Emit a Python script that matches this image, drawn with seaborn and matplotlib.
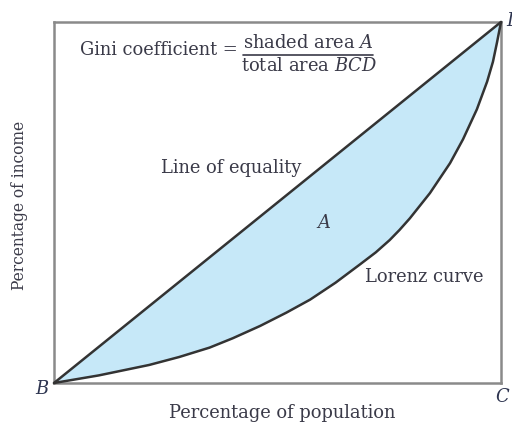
import matplotlib
matplotlib.use("Agg")
import matplotlib.pyplot as plt
import seaborn as sns
import pandas as pd
from matplotlib.lines import Line2D

# Data (Lorenz curve and line of equality)
population_share = [0.0, 0.10, 0.213, 0.28, 0.348, 0.40, 0.461, 0.52, 0.573, 0.63, 0.685,
                    0.72, 0.751, 0.773, 0.796, 0.841, 0.886, 0.915, 0.946, 0.969, 0.982,
                    0.991, 1.0]
income_share = [0.0, 0.021, 0.050, 0.072, 0.098, 0.124, 0.158, 0.195, 0.231, 0.278, 0.329,
                0.362, 0.396, 0.424, 0.456, 0.526, 0.609, 0.675, 0.758, 0.835, 0.890,
                0.943, 1.0]
equality_x = [0.0, 1.0]
equality_y = [0.0, 1.0]

sns.set_theme(style="white")
plt.rcParams["font.family"] = ["DejaVu Serif"]
plt.rcParams["mathtext.fontset"] = "custom"
plt.rcParams["mathtext.it"] = "DejaVu Serif:italic"
plt.rcParams["mathtext.rm"] = "DejaVu Serif"

W, H = 512, 424
fig = plt.figure(figsize=(W / 100, H / 100), dpi=100)
ax = fig.add_axes([54 / W, 1 - 383 / H, 447 / W, 361 / H])

lorenz = pd.DataFrame({"pop": population_share, "inc": income_share})
eq = pd.DataFrame({"pop": equality_x, "inc": equality_y})

ax.fill_between(population_share, income_share, population_share,
                color="#c6e8f8", linewidth=0, zorder=1)
sns.lineplot(data=eq, x="pop", y="inc", ax=ax, color="#333333", linewidth=1.8,
             sort=False, zorder=3)
sns.lineplot(data=lorenz, x="pop", y="inc", ax=ax, color="#333333", linewidth=1.8,
             sort=False, zorder=3)
for l in ax.lines:
    l.set_clip_on(False)
    l.set_solid_joinstyle("round")

ax.set_xlim(0, 1)
ax.set_ylim(0, 1)
ax.set_xticks([])
ax.set_yticks([])
ax.set_xlabel("")
ax.set_ylabel("")
for s in ax.spines.values():
    s.set_color("#8a8a8a")
    s.set_linewidth(1.8)
    s.set_visible(True)

tc = "#3a3a48"
fs = 12.9

def ftext(px, py, s, **kw):
    kw.setdefault("fontsize", fs)
    kw.setdefault("color", tc)
    fig.text(px / W, 1 - py / H, s, **kw)

ftext(80, 50, "Gini coefficient =", ha="left", va="center")
ftext(308, 43, "shaded area $A$", ha="center", va="center")
ftext(309, 66, "total area $BCD$", ha="center", va="center")
fig.add_artist(Line2D([243 / W, 373 / W], [1 - 55 / H, 1 - 55 / H],
                      color=tc, linewidth=1.2))

ftext(231, 168, "Line of equality", ha="center", va="center")
ftext(324, 223, "A", ha="center", va="center", style="italic")
ftext(424, 277, "Lorenz curve", ha="center", va="center")
ftext(282, 413, "Percentage of population", ha="center", va="center")
ftext(20, 205, "Percentage of income", ha="center", va="center", rotation=90,
      fontsize=11.2)

lc = "#2e3550"
ftext(42, 389, "B", ha="center", va="center", style="italic", color=lc)
ftext(502, 397, "C", ha="center", va="center", style="italic", color=lc)
ftext(506, 21, "D", ha="left", va="center", style="italic", color=lc)

fig.savefig("out.png", dpi=100)
